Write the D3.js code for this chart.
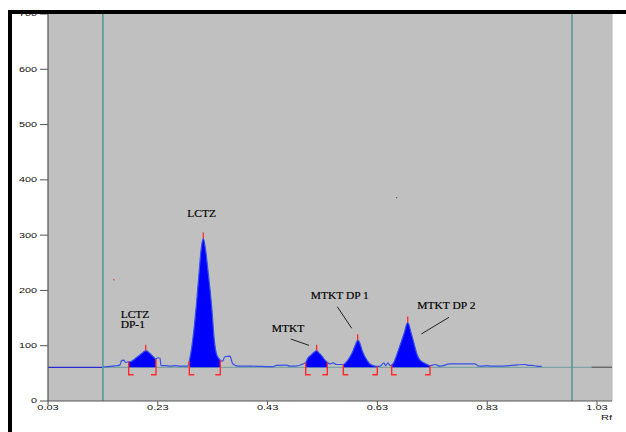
<!DOCTYPE html>
<html><head><meta charset="utf-8">
<script src="https://cdn.jsdelivr.net/npm/d3@7"></script>
<style>html,body{margin:0;padding:0;background:#fff;}svg{display:block;}</style>
</head><body>
<svg id="c" width="626" height="432"></svg>
<script>
// ---- data ----
const yTicks = [0,100,200,300,400,500,600,700];
const xTicks = [0.03,0.23,0.43,0.63,0.83,1.03];
const xTickLabels = ["0.03","0.23","0.43","0.63","0.83","1.03"];
const baselineValue = 61;
const startLineRf = 0.130;
const frontLineRf = 0.9845;
const trace = [
 [0.130,61.5],[0.143,62.5],[0.152,63.5],[0.161,65],[0.164,73],[0.168,74],[0.171,70],[0.175,70.5],[0.177,71],
 [0.1794,71],[0.1916,79],[0.2007,86],[0.208,91],[0.2158,86],[0.2218,80],[0.2267,76],[0.2285,77.8],[0.234,77.8],[0.2358,64],
 [0.245,64],[0.252,63],[0.262,64],[0.270,63],[0.280,63],[0.2850,63.5],[0.2874,72],[0.2936,110],[0.3001,172],[0.3050,230],
 [0.3087,272],[0.3129,294],[0.3172,272],[0.3220,230],[0.3282,170],[0.3329,110],[0.3373,84],[0.3438,74],[0.348,72],[0.352,80],
 [0.3615,81],[0.366,68],[0.372,64],[0.380,63],[0.400,63],[0.420,62.5],[0.440,62],[0.446,64.5],[0.465,65],[0.470,63],[0.480,63],
 [0.492,66],[0.4994,70],[0.5036,78],[0.5091,83],[0.5145,88],[0.5194,91],[0.5236,87],[0.5291,81],[0.5345,74],[0.5387,70],
 [0.5437,67],[0.5491,69],[0.5559,66],[0.5619,66],[0.5679,66],[0.5710,68],[0.5801,80],[0.5861,92],[0.5910,104],[0.5941,110],
 [0.5983,104],[0.6020,92],[0.6074,80],[0.6153,68],[0.6220,64],[0.6298,62.5],[0.6347,63],[0.6420,69],[0.6450,64],[0.6493,69],
 [0.6530,64],[0.6560,65],[0.6590,68],[0.6662,86],[0.6724,104],[0.6785,122],[0.6852,142],[0.6918,122],[0.6967,104],[0.7016,86],
 [0.7076,74],[0.7167,68],[0.7258,64],[0.7349,66],[0.7440,63],[0.7622,67],[0.7805,67],[0.8078,67],[0.8133,63.5],[0.8200,63],
 [0.8300,64],[0.8350,63],[0.8600,63],[0.8861,65.5],[0.8988,66],[0.9050,64.5],[0.9116,64.5],[0.9200,63],[0.9293,62.5]
];
const peakNames = ["LCTZ DP-1","LCTZ","MTKT","MTKT DP 1","MTKT DP 2"];
const peakStart = [0.177,0.2874,0.4994,0.5679,0.6560];
const peakEnd   = [0.2267,0.3438,0.5387,0.6298,0.7258];
const peakApex  = [0.208,0.3129,0.5194,0.5941,0.6852];
const peakHeight= [91,294,91,110,142];
// label anchors (rf, value) and leader lines
const labelLines = [["LCTZ","DP-1"],["LCTZ"],["MTKT"],["MTKT DP 1"],["MTKT DP 2"]];
const labelRf  = [0.1624,0.2837,0.4375,0.5085,0.7027];
const labelVal = [151,332.2,125.3,183.9,165.8];
const leaderFrom = [null,null,[0.4721,112.1],[0.5570,170.5],[0.7604,151.4]];
const leaderTo   = [null,null,[0.5054,100.7],[0.5832,131.5],[0.7100,121.2]];

// ---- layout ----
const svg = d3.select("#c");
const x = d3.scaleLinear().domain([0.03,1.03]).range([48,597]);
const y = d3.scaleLinear().domain([0,700]).range([401,14]);
const xMax = x.invert(612);

svg.append("rect").attr("x",x(0.03)).attr("y",y(700)).attr("width",x(xMax)-x(0.03)).attr("height",y(0)-y(700)).attr("fill","#c0c0c0");
svg.append("line").attr("x1",x(xMax)+0.5).attr("x2",x(xMax)+0.5).attr("y1",y(700)).attr("y2",y(0)).attr("stroke","#d8d8d8").attr("stroke-width",1);

const interp = (rf)=>{
  for(let i=1;i<trace.length;i++){
    if(trace[i][0]>=rf){
      const a=trace[i-1], b=trace[i];
      return a[1]+(b[1]-a[1])*(rf-a[0])/(b[0]-a[0]);
    }
  }
  return trace[trace.length-1][1];
};

svg.append("line").attr("x1",x(0.03)).attr("x2",x(startLineRf)).attr("y1",y(baselineValue)).attr("y2",y(baselineValue)).attr("stroke","#2a2ad0").attr("stroke-width",1.2);
svg.append("line").attr("x1",x(startLineRf)).attr("x2",x(1.02)).attr("y1",y(baselineValue)).attr("y2",y(baselineValue)).attr("stroke","#7fa3a3").attr("stroke-width",1.2);
svg.append("line").attr("x1",x(1.02)).attr("x2",x(xMax)).attr("y1",y(baselineValue)).attr("y2",y(baselineValue)).attr("stroke","#6a6a6a").attr("stroke-width",1.5);

const area = d3.area().x(d=>x(d[0])).y0(y(baselineValue)).y1(d=>y(d[1])).curve(d3.curveMonotoneX);
peakNames.forEach((n,i)=>{
  const pts = [[peakStart[i],interp(peakStart[i])]]
    .concat(trace.filter(d=>d[0]>peakStart[i]&&d[0]<peakEnd[i]))
    .concat([[peakEnd[i],interp(peakEnd[i])]]);
  svg.append("path").attr("d",area(pts)).attr("fill","#0000ff");
});

const line = d3.line().x(d=>x(d[0])).y(d=>y(d[1])).curve(d3.curveMonotoneX);
svg.append("path").attr("d",line(trace)).attr("fill","none").attr("stroke","#3450e8").attr("stroke-width",1.2);

[startLineRf,frontLineRf].forEach(r=>{
  svg.append("line").attr("x1",x(r)).attr("x2",x(r)).attr("y1",y(700)).attr("y2",y(0)).attr("stroke","#4f9696").attr("stroke-width",1.5);
});

const red="#ff2a2a";
const bracketBottom = y(baselineValue)+7.5;
peakNames.forEach((n,i)=>{
  const ax=x(peakApex[i]), ay=y(peakHeight[i]);
  svg.append("line").attr("x1",ax).attr("x2",ax).attr("y1",ay).attr("y2",ay-6).attr("stroke",red).attr("stroke-width",1.3);
  [[peakStart[i],1],[peakEnd[i],-1]].forEach(([r,dir])=>{
    const bx=x(r), by=y(interp(r));
    svg.append("path").attr("d",`M${bx},${by}L${bx},${bracketBottom}L${bx+dir*5},${bracketBottom}`)
      .attr("fill","none").attr("stroke",red).attr("stroke-width",1.4);
  });
});

svg.append("rect").attr("x",x(0.1484)).attr("y",y(220.6)).attr("width",1.5).attr("height",1.5).attr("fill","#d06060");
svg.append("rect").attr("x",x(0.6639)).attr("y",y(369)).attr("width",1.2).attr("height",1.2).attr("fill","#606060");

peakNames.forEach((n,i)=>{
  labelLines[i].forEach((t,k)=>{
    svg.append("text").attr("transform",`translate(${x(labelRf[i])},${y(labelVal[i])+k*10.8}) scale(1,0.85)`)
      .attr("font-family","'Liberation Serif','Times New Roman',serif").attr("font-size",11.5).attr("fill","#000")
      .attr("stroke","#000").attr("stroke-width",0.2)
      .text(t);
  });
  if(leaderFrom[i]){
    svg.append("line").attr("x1",x(leaderFrom[i][0])).attr("y1",y(leaderFrom[i][1]))
      .attr("x2",x(leaderTo[i][0])).attr("y2",y(leaderTo[i][1])).attr("stroke","#222").attr("stroke-width",1);
  }
});

const axisCol="#555";
svg.append("line").attr("x1",x(0.03)).attr("x2",x(0.03)).attr("y1",y(700)).attr("y2",y(0)).attr("stroke",axisCol).attr("stroke-width",1.2);
svg.append("line").attr("x1",x(0.03)).attr("x2",x(xMax)).attr("y1",y(0)).attr("y2",y(0)).attr("stroke",axisCol).attr("stroke-width",1.2);
const sans="'Liberation Sans',Arial,sans-serif";
yTicks.forEach(v=>{
  svg.append("line").attr("x1",x(0.03)-8).attr("x2",x(0.03)).attr("y1",y(v)).attr("y2",y(v)).attr("stroke",axisCol);
  svg.append("text").attr("transform",`translate(37,${y(v)+2.4}) scale(1,0.66)`).attr("text-anchor","end")
    .attr("font-family",sans).attr("font-size",10.8).attr("fill","#111").text(String(v));
});
xTicks.forEach((v,i)=>{
  svg.append("line").attr("x1",x(v)).attr("x2",x(v)).attr("y1",y(0)).attr("y2",y(0)+4).attr("stroke",axisCol);
  svg.append("text").attr("transform",`translate(${x(v)},${y(0)+9.4}) scale(1,0.66)`).attr("text-anchor","middle")
    .attr("font-family",sans).attr("font-size",11).attr("fill","#111").text(xTickLabels[i]);
});
svg.append("text").attr("transform",`translate(612,${y(0)+18.5}) scale(1,0.66)`).attr("text-anchor","end")
  .attr("font-family",sans).attr("font-size",11).attr("fill","#111").text("Rf");

svg.append("rect").attr("x",8).attr("y",10).attr("width",618).attr("height",4).attr("fill","#000");
svg.append("rect").attr("x",8).attr("y",10).attr("width",4).attr("height",422).attr("fill","#000");
</script>
</body></html>
